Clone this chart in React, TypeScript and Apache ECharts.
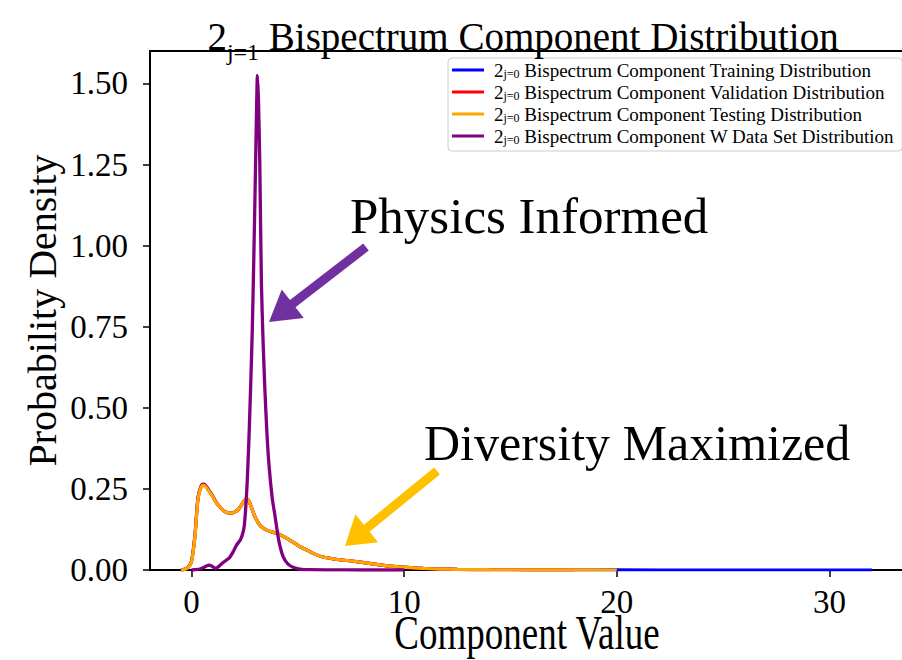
import React, { useEffect, useRef } from 'react';
import * as echarts from 'echarts';

// ---------- data ----------
const seriesLabels = ['Training', 'Validation', 'Testing', 'W Data Set'];
const seriesColors = ['#0000ff', '#ff0000', '#ffa500', '#800080'];

const testX = [-0.5, -0.32, -0.15, 0, 0.16, 0.31, 0.45, 0.55, 0.65, 0.78, 1.0, 1.18, 1.4, 1.57, 1.75, 1.88, 2.05, 2.19, 2.35, 2.48, 2.58, 2.66, 2.74, 2.86, 2.98, 3.1, 3.21, 3.35, 3.53, 3.75, 4.0, 4.25, 4.54, 4.85, 5.1, 5.41, 5.8, 6.19, 6.7, 7.2, 7.76, 8.5, 9.33, 10.1, 10.9, 11.7, 12.5, 14, 16, 18, 20];
const testY = [0, 0.002, 0.008, 0.025, 0.10, 0.22, 0.254, 0.261, 0.258, 0.247, 0.226, 0.206, 0.19, 0.18, 0.176, 0.175, 0.179, 0.186, 0.2, 0.213, 0.219, 0.217, 0.207, 0.186, 0.165, 0.15, 0.139, 0.13, 0.123, 0.118, 0.113, 0.106, 0.095, 0.083, 0.072, 0.062, 0.049, 0.04, 0.034, 0.03, 0.026, 0.019, 0.012, 0.008, 0.005, 0.003, 0.002, 0.001, 0.0005, 0.0002, 0];

const trainX = [-0.5, -0.32, -0.15, 0, 0.16, 0.31, 0.45, 0.55, 0.65, 0.78, 1.0, 1.18, 1.4, 1.57, 1.75, 1.88, 2.05, 2.19, 2.35, 2.48, 2.58, 2.66, 2.74, 2.86, 2.98, 3.1, 3.21, 3.35, 3.53, 3.75, 4.0, 4.25, 4.54, 4.85, 5.1, 5.41, 5.8, 6.19, 6.7, 7.2, 7.76, 8.5, 9.33, 10.1, 10.9, 11.7, 12.5, 14, 16, 18, 20, 24, 28, 32];
const trainY = [0, 0.002, 0.009, 0.027, 0.105, 0.225, 0.258, 0.265, 0.262, 0.25, 0.228, 0.207, 0.19, 0.18, 0.176, 0.175, 0.179, 0.186, 0.2, 0.213, 0.218, 0.216, 0.207, 0.186, 0.165, 0.15, 0.139, 0.13, 0.123, 0.118, 0.113, 0.106, 0.095, 0.083, 0.072, 0.062, 0.049, 0.04, 0.034, 0.03, 0.026, 0.019, 0.012, 0.008, 0.005, 0.003, 0.002, 0.001, 0.0005, 0.0002, 0.0001, 0, 0, 0];

const valX = [-0.5, -0.32, -0.15, 0, 0.16, 0.31, 0.45, 0.55, 0.65, 0.78, 1.0, 1.18, 1.4, 1.57, 1.75, 1.88, 2.05, 2.19, 2.35, 2.48, 2.58, 2.66, 2.74, 2.86, 2.98, 3.1, 3.21, 3.35, 3.53, 3.75, 4.0, 4.25, 4.54, 4.85, 5.1, 5.41, 5.8, 6.19, 6.7, 7.2, 7.76, 8.5, 9.33, 10.1, 10.9, 11.7, 12.5, 14, 16, 18];
const valY = [0, 0.002, 0.008, 0.026, 0.102, 0.222, 0.256, 0.263, 0.26, 0.248, 0.227, 0.206, 0.19, 0.18, 0.176, 0.175, 0.179, 0.186, 0.2, 0.213, 0.219, 0.217, 0.207, 0.186, 0.165, 0.15, 0.139, 0.13, 0.123, 0.118, 0.113, 0.106, 0.095, 0.083, 0.072, 0.062, 0.049, 0.04, 0.034, 0.03, 0.026, 0.019, 0.012, 0.008, 0.005, 0.003, 0.002, 0.001, 0.0005, 0];

const wX = [0.0, 0.2, 0.4, 0.55, 0.7, 0.83, 0.98, 1.14, 1.3, 1.49, 1.65, 1.8, 1.95, 2.12, 2.3, 2.4, 2.48, 2.55, 2.62, 2.7, 2.78, 2.86, 2.93, 3.0, 3.05, 3.1, 3.15, 3.21, 3.29, 3.37, 3.45, 3.55, 3.65, 3.8, 3.92, 4.1, 4.31, 4.54, 4.8, 5.1, 5.5, 6.5, 8, 10];
const wY = [0, 0.001, 0.003, 0.007, 0.012, 0.015, 0.011, 0.005, 0.012, 0.023, 0.031, 0.039, 0.055, 0.077, 0.093, 0.11, 0.134, 0.19, 0.27, 0.40, 0.56, 0.74, 0.957, 1.2, 1.38, 1.525, 1.45, 1.265, 0.88, 0.70, 0.56, 0.42, 0.32, 0.22, 0.17, 0.093, 0.041, 0.018, 0.008, 0.003, 0.001, 0.0005, 0, 0];

const xTicks = [0, 10, 20, 30];
const yTicks = [0, 0.25, 0.5, 0.75, 1.0, 1.25, 1.5];

const titleText = 'Bispectrum Component Distribution';
const xName = 'Component Value';
const yName = 'Probability Density';
const annoPhysics = 'Physics Informed';
const annoDiversity = 'Diversity Maximized';

const FONT = '"Liberation Serif", "Times New Roman", serif';

function pairs(xs: number[], ys: number[]) {
  return xs.map((x, i) => [x, ys[i]]);
}

function arrowPoints(tail: number[], tip: number[], shaft: number, headW: number, headL: number) {
  const dx = tail[0] - tip[0];
  const dy = tail[1] - tip[1];
  const L = Math.hypot(dx, dy);
  const ux = dx / L, uy = dy / L;
  const px = -uy, py = ux;
  const bx = tip[0] + ux * headL, by = tip[1] + uy * headL;
  return [
    [tip[0], tip[1]],
    [bx + px * headW / 2, by + py * headW / 2],
    [bx + px * shaft / 2, by + py * shaft / 2],
    [tail[0] + px * shaft / 2, tail[1] + py * shaft / 2],
    [tail[0] - px * shaft / 2, tail[1] - py * shaft / 2],
    [bx - px * shaft / 2, by - py * shaft / 2],
    [bx - px * headW / 2, by - py * headW / 2],
  ];
}

export default function App() {
  const ref = useRef<HTMLDivElement>(null);
  useEffect(() => {
    if (!ref.current) return;
    const chart = echarts.init(ref.current, undefined, { renderer: 'svg' });
    const xsList = [trainX, valX, testX, wX];
    const ysList = [trainY, valY, testY, wY];
    const series = seriesLabels.map((lab, i) => ({
      type: 'line',
      name: lab,
      data: pairs(xsList[i], ysList[i]),
      symbol: 'none',
      smooth: i === 3 ? 0.2 : 0.3,
      lineStyle: { color: seriesColors[i], width: i === 3 ? 3.3 : 3.2 },
      itemStyle: { color: seriesColors[i] },
      z: 2 + i,
      clip: true,
    }));

    chart.setOption({
      animation: false,
      backgroundColor: '#ffffff',
      title: {
        text: '2{s|j=1} ' + titleText,
        left: 523,
        textAlign: 'center',
        top: 8,
        padding: 0,
        textStyle: {
          fontFamily: FONT,
          fontSize: 39,
          fontWeight: 'normal',
          color: '#000',
          lineHeight: 56,
          rich: {
            s: { fontFamily: FONT, fontSize: 24, lineHeight: 33, verticalAlign: 'bottom', color: '#000' },
          },
        },
      },
      legend: {
        orient: 'vertical',
        left: 448,
        top: 58,
        padding: [2, 8, 5, 4],
        itemGap: 2,
        itemWidth: 32,
        itemHeight: 3,
        icon: 'rect',
        borderColor: '#cccccc',
        borderWidth: 1,
        borderRadius: 4,
        backgroundColor: 'rgba(255,255,255,0.8)',
        data: seriesLabels,
        formatter: (n: string) => '2{s|j=0} Bispectrum Component ' + n + ' Distribution',
        textStyle: {
          fontFamily: FONT,
          fontSize: 19,
          color: '#000',
          lineHeight: 20,
          padding: [0, 0, 0, 5],
          rich: {
            s: { fontFamily: FONT, fontSize: 12, lineHeight: 13, verticalAlign: 'bottom', color: '#000' },
          },
        },
      },
      grid: {
        left: 150,
        right: -4,
        top: 51,
        bottom: 90,
        show: true,
        borderColor: '#000',
        borderWidth: 2,
        backgroundColor: 'transparent',
        outerBoundsMode: 'none',
        containLabel: false,
      },
      xAxis: {
        type: 'value',
        min: -1.95,
        max: 33.6,
        axisLine: { show: true, onZero: false, lineStyle: { color: '#000', width: 2 } },
        axisTick: { show: true, length: 7, lineStyle: { color: '#000', width: 1.5 }, customValues: xTicks },
        axisLabel: { fontFamily: FONT, fontSize: 33, color: '#000', margin: 15, customValues: xTicks },
        splitLine: { show: false },
      },
      yAxis: {
        type: 'value',
        min: 0,
        max: 1.6,
        name: yName,
        nameLocation: 'middle',
        nameGap: 88,
        nameMoveOverlap: false,
        nameTextStyle: { fontFamily: FONT, fontSize: 40, color: '#000' },
        axisLine: { show: true, onZero: false, lineStyle: { color: '#000', width: 2 } },
        axisTick: { show: true, length: 7, lineStyle: { color: '#000', width: 1.5 }, customValues: yTicks },
        axisLabel: {
          fontFamily: FONT, fontSize: 33, color: '#000', margin: 22, customValues: yTicks,
          formatter: (v: number) => v.toFixed(2),
        },
        splitLine: { show: false },
      },
      series,
      graphic: [
        {
          type: 'text',
          x: 527,
          y: 633,
          scaleY: 1.3,
          style: { text: xName, fontFamily: FONT, fontSize: 37, fill: '#000', align: 'center', verticalAlign: 'middle' },
          z: 100,
        },
        {
          type: 'polygon',
          shape: { points: arrowPoints([366, 247], [269, 322], 9, 36, 30) },
          style: { fill: '#7030a0' },
          z: 100,
        },
        {
          type: 'polygon',
          shape: { points: arrowPoints([437, 471], [345, 546], 9, 36, 28) },
          style: { fill: '#ffc000' },
          z: 100,
        },
        {
          type: 'text',
          x: 350,
          y: 216,
          style: { text: annoPhysics, fontFamily: FONT, fontSize: 51, fill: '#000', align: 'left', verticalAlign: 'middle' },
          z: 100,
        },
        {
          type: 'text',
          x: 424,
          y: 443,
          style: { text: annoDiversity, fontFamily: FONT, fontSize: 50, fill: '#000', align: 'left', verticalAlign: 'middle' },
          z: 100,
        },
      ],
    });
    return () => chart.dispose();
  }, []);
  return (
    <div
      ref={ref}
      style={{ position: 'fixed', left: 0, top: 0, width: 902, height: 660, background: '#fff' }}
    />
  );
}
